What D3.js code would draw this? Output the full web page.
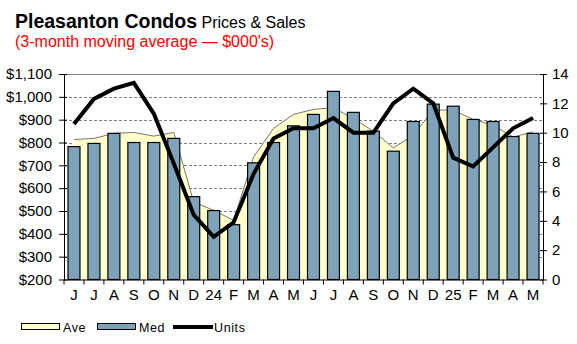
<!DOCTYPE html>
<html>
<head>
<meta charset="utf-8">
<script src="https://cdn.jsdelivr.net/npm/d3@7"></script>
<style>
  body { margin: 0; background: #fff; }
  text { font-family: "Liberation Sans", Arial, sans-serif; }
</style>
</head>
<body>
<script>
// monthly series, Jun '23 .. May '25
const months = ["J","J","A","S","O","N","D","24","F","M","A","M",
                "J","J","A","S","O","N","D","25","F","M","A","M"];
const ave = [813, 818, 840, 844, 828, 844, 539, 503, 459, 737, 862, 923,
             945, 952, 905, 850, 776, 832, 942, 942, 901, 876, 824, 847];
const med = [782, 796, 840, 800, 800, 818, 563, 502, 440, 711, 800, 873,
             923, 1024, 932, 850, 762, 892, 968, 959, 901, 892, 826, 840];
const units = [10.6, 12.3, 13.0, 13.4, 11.3, 7.9, 4.4, 2.9, 3.9, 7.2, 9.6, 10.3,
               10.3, 11.0, 10.0, 10.0, 12.0, 13.0, 12.0, 8.3, 7.7, 9.0, 10.3, 11.0];
const priceTicks = [200, 300, 400, 500, 600, 700, 800, 900, 1000, 1100];
const unitTicks = [0, 2, 4, 6, 8, 10, 12, 14];

const W = 577, H = 344;
const plot = {left: 64, right: 543, top: 74, bottom: 279.5};

const svg = d3.select("body").append("svg")
    .attr("width", W)
    .attr("height", H);

const idx = d3.range(months.length);

let x = d3.scaleBand()
    .domain(idx)
    .range([plot.left, plot.right]);
let yP = d3.scaleLinear().domain([200, 1100]).range([plot.bottom, plot.top]);
let yU = d3.scaleLinear().domain([0, 14]).range([plot.bottom, plot.top]);
const cx = i => x(i) + x.bandwidth() / 2;

// gridlines (dashed), solid line at the top
svg.append("g")
  .selectAll("line")
  .data(priceTicks.slice(1))
  .enter().append("line")
    .attr("x1", plot.left).attr("x2", plot.right)
    .attr("y1", d => Math.round(yP(d)) + 0.5)
    .attr("y2", d => Math.round(yP(d)) + 0.5)
    .attr("stroke", "#808080")
    .attr("stroke-width", 1)
    .attr("stroke-dasharray", d => d === 1100 ? null : "3,2");

// Ave as a filled area
const area = d3.area()
    .x((d, i) => cx(i))
    .y0(plot.bottom)
    .y1(d => yP(d));
svg.append("path")
    .datum(ave)
    .attr("d", area)
    .attr("fill", "#ffffcc");
svg.append("path")
    .datum(ave)
    .attr("d", d3.line().x((d, i) => cx(i)).y(d => yP(d)))
    .attr("fill", "none")
    .attr("stroke", "#777")
    .attr("stroke-width", 1);

// Med bars
const bw = x.bandwidth() * 0.6;
svg.append("g")
  .selectAll("rect")
  .data(med)
  .enter().append("rect")
    .attr("x", (d, i) => cx(i) - bw / 2)
    .attr("y", d => yP(d))
    .attr("width", bw)
    .attr("height", d => plot.bottom - yP(d))
    .attr("fill", "#7fa2bb")
    .attr("stroke", "#000")
    .attr("stroke-width", 1.2);

// Units line on the right scale
svg.append("path")
    .datum(units)
    .attr("d", d3.line().x((d, i) => cx(i)).y(d => yU(d)))
    .attr("fill", "none")
    .attr("stroke", "#000")
    .attr("stroke-width", 4);

// axes
const leftAxis = d3.axisLeft(yP)
    .tickValues(priceTicks)
    .tickSizeInner(6).tickSizeOuter(0)
    .tickPadding(6)
    .tickFormat(d => "$" + d3.format(",")(d));
const gl = svg.append("g")
    .attr("transform", `translate(${plot.left},0)`)
    .call(leftAxis);

const rightAxis = d3.axisRight(yU)
    .tickValues(unitTicks)
    .tickSizeInner(4).tickSizeOuter(0)
    .tickPadding(5);
const gr = svg.append("g")
    .attr("transform", `translate(${plot.right},0)`)
    .call(rightAxis);

const bottomAxis = d3.axisBottom(x)
    .tickSize(0).tickPadding(10)
    .tickFormat(i => months[i]);
const gb = svg.append("g")
    .attr("transform", `translate(0,${plot.bottom})`)
    .call(bottomAxis);

// category boundary ticks
gb.selectAll(".sep")
  .data(idx.concat([months.length]))
  .enter().append("line")
    .attr("class", "sep")
    .attr("x1", i => i < months.length ? x(i) : plot.right)
    .attr("x2", i => i < months.length ? x(i) : plot.right)
    .attr("y1", 0).attr("y2", 5)
    .attr("stroke", "#000");

// cross ticks on the value axes
gl.selectAll(".tick line").attr("x2", -5).attr("x1", 3);
gr.selectAll(".tick line").attr("x1", -3).attr("x2", 4);

[gl, gr, gb].forEach(g => {
  g.select(".domain").attr("stroke", "#000");
  g.selectAll("text")
    .attr("fill", "#000")
    .style("font-size", "15px");
});

// titles
const title = svg.append("text")
    .attr("x", 15).attr("y", 28);
title.append("tspan")
    .style("font-size", "19.5px").style("font-weight", "bold")
    .text("Pleasanton Condos");
title.append("tspan")
    .style("font-size", "16px")
    .text(" Prices & Sales");
svg.append("text")
    .attr("x", 15).attr("y", 47)
    .attr("fill", "#ff0000")
    .style("font-size", "16px")
    .text("(3-month moving average \u2014 $000's)");

// legend
const lg = svg.append("g").attr("transform", "translate(0,327)");
const legendText = (tx, s) => lg.append("text")
    .attr("x", tx).attr("y", 4.5)
    .style("font-size", "12.5px")
    .style("letter-spacing", "0.6px")
    .text(s);
lg.append("rect")
    .attr("x", 21.5).attr("y", -3.5).attr("width", 38).attr("height", 6)
    .attr("fill", "#ffffcc").attr("stroke", "#000");
legendText(63, "Ave");
lg.append("rect")
    .attr("x", 97.5).attr("y", -3.5).attr("width", 38).attr("height", 6)
    .attr("fill", "#7fa2bb").attr("stroke", "#000");
legendText(139, "Med");
lg.append("line")
    .attr("x1", 173).attr("x2", 213).attr("y1", 0).attr("y2", 0)
    .attr("stroke", "#000").attr("stroke-width", 4);
legendText(214, "Units");
</script>
</body>
</html>
